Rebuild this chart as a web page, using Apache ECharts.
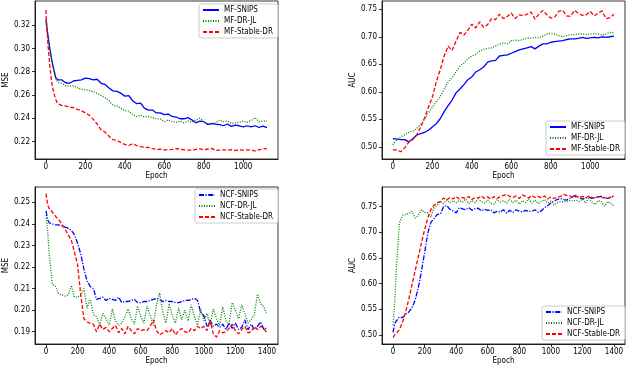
<!DOCTYPE html>
<html lang="en">

<head>
    <meta charset="UTF-8">
    <title>MSE / AUC curves</title>
    <script src="https://cdn.jsdelivr.net/npm/echarts@6.0.0/dist/echarts.min.js"></script>
    <style>
        html, body {
            margin: 0;
            padding: 0;
            background: #fff;
        }

        #main {
            width: 640px;
            height: 387px;
        }
    </style>
</head>

<body>
    <div id="main"></div>

    <script>
        // epochs of the MF runs (top row)
        let mfEpochs = [0, 10, 20, 30, 40, 50, 60, 80, 100, 120, 140, 160, 180, 200, 220, 240, 260, 280, 300, 320,
            340, 360, 380, 400, 420, 440, 460, 480, 500, 520, 540, 560, 580, 600, 620, 640, 660, 680, 700, 720,
            740, 760, 780, 800, 820, 840, 860, 880, 900, 920, 940, 960, 980, 1000, 1020, 1040, 1060, 1080, 1100, 1120];

        let mfMseSnips = [0.325, 0.312, 0.300, 0.290, 0.282, 0.275, 0.273, 0.273, 0.2705, 0.270, 0.272, 0.2725, 0.273, 0.2745, 0.274, 0.273, 0.2735, 0.270, 0.269, 0.266,
            0.2635, 0.263, 0.2615, 0.259, 0.2595, 0.255, 0.2525, 0.253, 0.2485, 0.247, 0.247, 0.2445, 0.2445, 0.243, 0.2435, 0.2415, 0.241, 0.2395, 0.2395, 0.2405,
            0.2385, 0.236, 0.2375, 0.237, 0.2345, 0.2355, 0.2348, 0.2345, 0.2335, 0.235, 0.233, 0.234, 0.2335, 0.2325, 0.2335, 0.2325, 0.2335, 0.232, 0.2332, 0.2318];
        let mfMseDrjl = [0.323, 0.310, 0.299, 0.289, 0.281, 0.274, 0.271, 0.270, 0.268, 0.2675, 0.268, 0.266, 0.265, 0.2645, 0.264, 0.2625, 0.2615, 0.2595, 0.2575, 0.255,
            0.251, 0.2505, 0.2485, 0.2465, 0.246, 0.243, 0.2415, 0.2425, 0.241, 0.2415, 0.2405, 0.2395, 0.2392, 0.237, 0.2385, 0.237, 0.2365, 0.2375, 0.236, 0.2375,
            0.2365, 0.2385, 0.240, 0.237, 0.2355, 0.2345, 0.236, 0.2385, 0.237, 0.2375, 0.2355, 0.236, 0.2365, 0.2375, 0.2365, 0.238, 0.2405, 0.237, 0.2375, 0.2375];
        let mfMseStable = [0.333, 0.305, 0.285, 0.270, 0.262, 0.256, 0.2525, 0.251, 0.2505, 0.2495, 0.249, 0.2475, 0.2465, 0.2445, 0.2425, 0.239, 0.235, 0.230, 0.228, 0.2245,
            0.2215, 0.221, 0.219, 0.2175, 0.2165, 0.218, 0.2165, 0.2155, 0.215, 0.2148, 0.2138, 0.2132, 0.2134, 0.2128, 0.2128, 0.2132, 0.2138, 0.2135, 0.2128, 0.2125,
            0.2125, 0.2132, 0.2138, 0.2128, 0.2135, 0.214, 0.2122, 0.2125, 0.2128, 0.2125, 0.213, 0.2122, 0.2128, 0.2125, 0.2128, 0.2125, 0.2118, 0.2128, 0.2138, 0.2136];

        let mfAucSnips = [0.515, 0.516, 0.514, 0.513, 0.513, 0.512, 0.513, 0.509, 0.514, 0.521, 0.524, 0.526, 0.530, 0.536, 0.542, 0.551, 0.564, 0.575, 0.585, 0.598,
            0.605, 0.613, 0.622, 0.627, 0.636, 0.640, 0.645, 0.654, 0.656, 0.657, 0.665, 0.666, 0.667, 0.670, 0.673, 0.676, 0.678, 0.680, 0.682, 0.678,
            0.683, 0.687, 0.687, 0.690, 0.691, 0.692, 0.693, 0.695, 0.696, 0.696, 0.697, 0.699, 0.697, 0.698, 0.699, 0.698, 0.700, 0.699, 0.700, 0.701];
        let mfAucDrjl = [0.503, 0.508, 0.512, 0.515, 0.518, 0.520, 0.522, 0.526, 0.528, 0.533, 0.540, 0.550, 0.561, 0.572, 0.582, 0.591, 0.605, 0.618, 0.626, 0.636,
            0.647, 0.652, 0.660, 0.665, 0.668, 0.674, 0.677, 0.679, 0.680, 0.683, 0.687, 0.689, 0.687, 0.693, 0.694, 0.693, 0.695, 0.698, 0.697, 0.699,
            0.698, 0.701, 0.705, 0.706, 0.705, 0.702, 0.700, 0.702, 0.704, 0.704, 0.705, 0.705, 0.704, 0.705, 0.706, 0.705, 0.703, 0.705, 0.708, 0.707];
        let mfAucStable = [0.495, 0.495, 0.494, 0.492, 0.491, 0.494, 0.498, 0.508, 0.513, 0.521, 0.535, 0.552, 0.572, 0.590, 0.618, 0.640, 0.665, 0.683, 0.675, 0.692,
            0.708, 0.703, 0.712, 0.723, 0.716, 0.727, 0.717, 0.722, 0.733, 0.731, 0.741, 0.733, 0.737, 0.743, 0.733, 0.740, 0.738, 0.741, 0.745, 0.732,
            0.741, 0.748, 0.740, 0.734, 0.736, 0.746, 0.748, 0.738, 0.737, 0.748, 0.742, 0.739, 0.740, 0.746, 0.738, 0.743, 0.747, 0.733, 0.735, 0.741];

        // epochs of the NCF runs (bottom row)
        let ncfEpochs = [0, 10, 20, 40, 60, 80, 100, 120, 140, 160, 180, 200, 220, 240, 260, 280, 300, 320, 340, 360,
            380, 400, 420, 440, 460, 480, 500, 520, 540, 560, 580, 600, 620, 640, 660, 680, 700, 720, 740, 760,
            780, 800, 820, 840, 860, 880, 900, 920, 940, 960, 980, 1000, 1020, 1040, 1060, 1080, 1100, 1120, 1140, 1160,
            1180, 1200, 1220, 1240, 1260, 1280, 1300, 1320, 1340, 1360, 1380, 1400];

        let ncfMseSnips = [0.246, 0.242, 0.2405, 0.240, 0.2395, 0.2395, 0.239, 0.2385, 0.238, 0.237, 0.235, 0.231, 0.226, 0.219, 0.2135, 0.211, 0.210, 0.205, 0.2055, 0.206,
            0.2045, 0.2055, 0.205, 0.2045, 0.206, 0.2035, 0.204, 0.204, 0.2045, 0.205, 0.2035, 0.2035, 0.204, 0.204, 0.2045, 0.205, 0.2055, 0.205, 0.204, 0.2045,
            0.204, 0.204, 0.2035, 0.2035, 0.204, 0.2045, 0.2045, 0.205, 0.2055, 0.2045, 0.199, 0.1975, 0.1925, 0.195, 0.1925, 0.1935, 0.192, 0.1935, 0.191, 0.194,
            0.1915, 0.194, 0.191, 0.192, 0.1955, 0.191, 0.1935, 0.191, 0.1925, 0.1945, 0.191, 0.192];
        let ncfMseDrjl = [0.244, 0.237, 0.226, 0.212, 0.211, 0.2075, 0.207, 0.2065, 0.207, 0.2115, 0.206, 0.206, 0.207, 0.210, 0.201, 0.205, 0.198, 0.197, 0.193, 0.1985,
            0.196, 0.193, 0.2005, 0.195, 0.193, 0.194, 0.197, 0.2005, 0.196, 0.1935, 0.202, 0.197, 0.194, 0.202, 0.1975, 0.193, 0.2025, 0.208, 0.199, 0.194,
            0.203, 0.1975, 0.194, 0.201, 0.1955, 0.200, 0.195, 0.2025, 0.197, 0.193, 0.2005, 0.195, 0.1985, 0.193, 0.2005, 0.196, 0.193, 0.2015, 0.195, 0.1935,
            0.2035, 0.200, 0.196, 0.2025, 0.1985, 0.194, 0.1955, 0.198, 0.2075, 0.203, 0.2015, 0.198];
        let ncfMseStable = [0.254, 0.249, 0.247, 0.2455, 0.2435, 0.242, 0.240, 0.2375, 0.235, 0.2325, 0.227, 0.221, 0.207, 0.196, 0.1945, 0.194, 0.1935, 0.190, 0.1935, 0.191,
            0.192, 0.190, 0.1915, 0.193, 0.1895, 0.1915, 0.189, 0.1925, 0.1905, 0.189, 0.1915, 0.1905, 0.191, 0.1905, 0.1925, 0.1955, 0.1905, 0.1885, 0.1895, 0.1905,
            0.1895, 0.1915, 0.1885, 0.1905, 0.1915, 0.190, 0.1895, 0.1915, 0.1905, 0.1925, 0.1915, 0.1925, 0.1905, 0.1955, 0.189, 0.1875, 0.1905, 0.1895, 0.190, 0.1915,
            0.1935, 0.1905, 0.189, 0.191, 0.1925, 0.1895, 0.190, 0.1925, 0.191, 0.1925, 0.1915, 0.1895];

        let ncfAucSnips = [0.505, 0.522, 0.527, 0.535, 0.534, 0.540, 0.545, 0.553, 0.568, 0.592, 0.625, 0.660, 0.698, 0.720, 0.727, 0.735, 0.736, 0.750, 0.752, 0.745,
            0.742, 0.738, 0.748, 0.746, 0.744, 0.748, 0.743, 0.746, 0.747, 0.742, 0.745, 0.743, 0.744, 0.738, 0.741, 0.740, 0.744, 0.737, 0.743, 0.739,
            0.744, 0.741, 0.740, 0.743, 0.741, 0.741, 0.744, 0.739, 0.742, 0.748, 0.752, 0.757, 0.761, 0.764, 0.766, 0.764, 0.763, 0.766, 0.770, 0.772,
            0.768, 0.765, 0.767, 0.769, 0.766, 0.768, 0.769, 0.770, 0.768, 0.766, 0.768, 0.771];
        let ncfAucDrjl = [0.520, 0.560, 0.625, 0.718, 0.733, 0.735, 0.737, 0.741, 0.728, 0.733, 0.744, 0.739, 0.738, 0.730, 0.748, 0.753, 0.760, 0.756, 0.763, 0.757,
            0.762, 0.758, 0.762, 0.759, 0.765, 0.756, 0.762, 0.758, 0.765, 0.760, 0.757, 0.763, 0.756, 0.755, 0.764, 0.759, 0.762, 0.757, 0.765, 0.758,
            0.763, 0.755, 0.762, 0.758, 0.765, 0.757, 0.763, 0.756, 0.760, 0.764, 0.757, 0.761, 0.753, 0.758, 0.760, 0.759, 0.760, 0.762, 0.761, 0.763,
            0.760, 0.765, 0.757, 0.766, 0.759, 0.754, 0.762, 0.760, 0.751, 0.760, 0.756, 0.752];
        let ncfAucStable = [0.495, 0.500, 0.503, 0.510, 0.525, 0.545, 0.570, 0.598, 0.625, 0.652, 0.680, 0.705, 0.728, 0.745, 0.753, 0.758, 0.760, 0.767, 0.763, 0.768,
            0.765, 0.770, 0.765, 0.768, 0.766, 0.770, 0.764, 0.768, 0.767, 0.771, 0.766, 0.769, 0.765, 0.770, 0.766, 0.770, 0.772, 0.774, 0.770, 0.768,
            0.771, 0.766, 0.773, 0.770, 0.767, 0.772, 0.768, 0.770, 0.767, 0.771, 0.765, 0.769, 0.766, 0.768, 0.770, 0.774, 0.772, 0.771, 0.767, 0.770,
            0.768, 0.770, 0.767, 0.771, 0.768, 0.766, 0.770, 0.768, 0.767, 0.766, 0.769, 0.771];

        // tick labels
        let mfEpochTicks = [0, 200, 400, 600, 800, 1000];
        let ncfEpochTicks = [0, 200, 400, 600, 800, 1000, 1200, 1400];
        let mfMseTicks = [0.22, 0.24, 0.26, 0.28, 0.30, 0.32];
        let ncfMseTicks = [0.19, 0.20, 0.21, 0.22, 0.23, 0.24, 0.25];
        let aucTicks = [0.50, 0.55, 0.60, 0.65, 0.70, 0.75];

        let mfNames = ['MF-SNIPS', 'MF-DR-JL', 'MF-Stable-DR'];
        let ncfNames = ['NCF-SNIPS', 'NCF-DR-JL', 'NCF-Stable-DR'];

        let font = 'DejaVu Sans Condensed, DejaVu Sans, sans-serif';
        let myChart = echarts.init(document.getElementById('main'));

        function pairs(xs, ys) {
            return xs.map((x, i) => [x, ys[i]]);
        }

        function xAxis(idx, min, max, ticks) {
            return {
                type: 'value', gridIndex: idx, min: min, max: max,
                name: 'Epoch', nameLocation: 'middle', nameGap: 13,
                nameTextStyle: { fontFamily: font, fontSize: 8, color: '#000' },
                axisLine: { onZero: false, lineStyle: { color: '#000', width: 0.8 } },
                axisTick: { length: 3, customValues: ticks, lineStyle: { color: '#000', width: 0.8 } },
                axisLabel: {
                    customValues: ticks, margin: 4, fontFamily: font, fontSize: 8, color: '#000',
                    formatter: v => String(v)
                },
                splitLine: { show: false }
            };
        }

        function yAxis(idx, min, max, ticks, name) {
            return {
                type: 'value', gridIndex: idx, min: min, max: max,
                name: name, nameLocation: 'middle', nameGap: 24,
                nameTextStyle: { fontFamily: font, fontSize: 8, color: '#000' },
                axisLine: { onZero: false, lineStyle: { color: '#000', width: 0.8 } },
                axisTick: { length: 3, customValues: ticks, lineStyle: { color: '#000', width: 0.8 } },
                axisLabel: {
                    customValues: ticks, margin: 5, fontFamily: font, fontSize: 8, color: '#000',
                    formatter: v => v.toFixed(2)
                },
                splitLine: { show: false }
            };
        }

        function legend(names, left, top) {
            return {
                data: names, left: left, top: top, orient: 'vertical',
                itemWidth: 16, itemHeight: 8, itemGap: 3,
                padding: [2, 5, 2, 3],
                borderColor: '#ccc', borderWidth: 1, borderRadius: 2,
                backgroundColor: 'rgba(255,255,255,0.8)',
                itemStyle: { opacity: 0, borderWidth: 0 },
                textStyle: { fontFamily: font, fontSize: 8, color: '#000' }
            };
        }

        let solid = 'solid';
        let dotted = [1, 1.5];
        let dashed = [4, 2];
        let dashDot = [5, 1.5, 1.2, 1.5];

        function line(name, idx, xs, ys, color, type) {
            return {
                name: name, type: 'line', xAxisIndex: idx, yAxisIndex: idx,
                data: pairs(xs, ys), symbol: 'none', showSymbol: false,
                lineStyle: { color: color, width: 1.3, type: type },
                itemStyle: { color: color }
            };
        }

        let frame = { show: true, borderColor: '#000', borderWidth: 0.8 };

        option = {
            animation: false,
            backgroundColor: '#fff',
            grid: [
                Object.assign({ left: 35, top: 1, width: 243, height: 158 }, frame),
                Object.assign({ left: 382, top: 1, width: 243, height: 158 }, frame),
                Object.assign({ left: 35, top: 187, width: 243, height: 157 }, frame),
                Object.assign({ left: 382, top: 187, width: 243, height: 157 }, frame)
            ],
            legend: [
                legend(mfNames, 199, 4),
                legend(mfNames, 546, 121),
                legend(ncfNames, 195, 189),
                legend(ncfNames, 542, 306)
            ],
            xAxis: [
                xAxis(0, -55, 1176, mfEpochTicks),
                xAxis(1, -55, 1176, mfEpochTicks),
                xAxis(2, -70, 1470, ncfEpochTicks),
                xAxis(3, -70, 1470, ncfEpochTicks)
            ],
            yAxis: [
                yAxis(0, 0.2049, 0.3408, mfMseTicks, 'MSE'),
                yAxis(1, 0.4778, 0.765, aucTicks, 'AUC'),
                yAxis(2, 0.1843, 0.2571, ncfMseTicks, 'MSE'),
                yAxis(3, 0.4825, 0.7884, aucTicks, 'AUC')
            ],
            series: [
                line('MF-SNIPS', 0, mfEpochs, mfMseSnips, '#0000ff', solid),
                line('MF-DR-JL', 0, mfEpochs, mfMseDrjl, '#008000', dotted),
                line('MF-Stable-DR', 0, mfEpochs, mfMseStable, '#ff0000', dashed),
                line('MF-SNIPS', 1, mfEpochs, mfAucSnips, '#0000ff', solid),
                line('MF-DR-JL', 1, mfEpochs, mfAucDrjl, '#008000', dotted),
                line('MF-Stable-DR', 1, mfEpochs, mfAucStable, '#ff0000', dashed),
                line('NCF-SNIPS', 2, ncfEpochs, ncfMseSnips, '#0000ff', dashDot),
                line('NCF-DR-JL', 2, ncfEpochs, ncfMseDrjl, '#008000', dotted),
                line('NCF-Stable-DR', 2, ncfEpochs, ncfMseStable, '#ff0000', dashed),
                line('NCF-SNIPS', 3, ncfEpochs, ncfAucSnips, '#0000ff', dashDot),
                line('NCF-DR-JL', 3, ncfEpochs, ncfAucDrjl, '#008000', dotted),
                line('NCF-Stable-DR', 3, ncfEpochs, ncfAucStable, '#ff0000', dashed)
            ]
        };

        myChart.setOption(option);
    </script>

</body>

</html>
